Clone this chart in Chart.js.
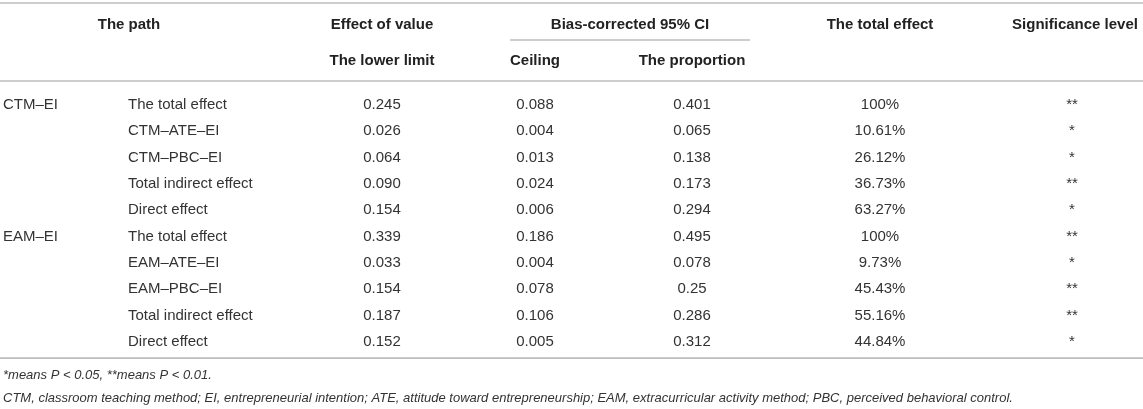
<!DOCTYPE html>
<html>
<head>
<meta charset="utf-8">
<script src="https://cdn.jsdelivr.net/npm/chart.js@4.4.1/dist/chart.umd.min.js"></script>
<style>
  html, body { margin: 0; padding: 0; background: #fff; }
  #wrap { position: relative; width: 1143px; height: 409px; }
</style>
</head>
<body>
<div id="wrap"><canvas id="pathTable"></canvas></div>
<script>
// table content
const groups = ["CTM–EI", "", "", "", "", "EAM–EI", "", "", "", ""];
const paths = ["The total effect", "CTM–ATE–EI", "CTM–PBC–EI", "Total indirect effect", "Direct effect",
  "The total effect", "EAM–ATE–EI", "EAM–PBC–EI", "Total indirect effect", "Direct effect"];
const lowerLimit = ["0.245", "0.026", "0.064", "0.090", "0.154", "0.339", "0.033", "0.154", "0.187", "0.152"];
const ceiling = ["0.088", "0.004", "0.013", "0.024", "0.006", "0.186", "0.004", "0.078", "0.106", "0.005"];
const proportion = ["0.401", "0.065", "0.138", "0.173", "0.294", "0.495", "0.078", "0.25", "0.286", "0.312"];
const totalEffect = ["100%", "10.61%", "26.12%", "36.73%", "63.27%", "100%", "9.73%", "45.43%", "55.16%", "44.84%"];
const significance = ["**", "*", "*", "**", "*", "**", "*", "**", "**", "*"];

const headerTop = ["The path", "Effect of value", "Bias-corrected 95% CI", "The total effect", "Significance level"];
const headerBottom = ["The lower limit", "Ceiling", "The proportion"];
const footnotes = [
  "*means P < 0.05, **means P < 0.01.",
  "CTM, classroom teaching method; EI, entrepreneurial intention; ATE, attitude toward entrepreneurship; EAM, extracurricular activity method; PBC, perceived behavioral control."
];

// layout (x in px along the row, y in row units)
const X = { group: 3, path: 128, pathHead: 129, lower: 382, ceiling: 535, proportion: 692, bias: 630, total: 880, sig: 1072, sigHead: 1075, note: 3 };
const Y = { head1: -3.06, head2: -1.69, topRule: -3.82, biasRule: -2.414, headRule: -0.855, bottomRule: 9.68, note1: 10.3, note2: 11.15 };
const FONT = "'Liberation Sans', Arial, Helvetica, sans-serif";
const RULE = "#bdbdbd";

function textSet(texts, xs, ys, align, opts) {
  return {
    type: "scatter",
    data: texts.map((t, i) => ({ x: Array.isArray(xs) ? xs[i] : xs, y: Array.isArray(ys) ? ys[i] : ys })),
    texts: texts,
    textAlign: align,
    textFont: opts.font,
    textColor: opts.color,
    pointRadius: 0,
    showLine: false
  };
}

function rule(y, x0, x1) {
  return {
    type: "line",
    data: [{ x: x0, y: y }, { x: x1, y: y }],
    borderColor: RULE,
    borderWidth: 1.6,
    pointRadius: 0,
    fill: false
  };
}

const rowIdx = paths.map((_, i) => i);
const body = { font: "15px " + FONT, color: "#333" };
const bold = { font: "bold 15px " + FONT, color: "#222" };
const note = { font: "italic 13px " + FONT, color: "#333" };

const datasets = [
  rule(Y.topRule, 0, 1143),
  rule(Y.biasRule, 510, 750),
  rule(Y.headRule, 0, 1143),
  rule(Y.bottomRule, 0, 1143),
  textSet(headerTop, [X.pathHead, X.lower, X.bias, X.total, X.sigHead], Y.head1, "center", bold),
  textSet(headerBottom, [X.lower, X.ceiling, X.proportion], Y.head2, "center", bold),
  textSet(groups, X.group, rowIdx, "left", body),
  textSet(paths, X.path, rowIdx, "left", body),
  textSet(lowerLimit, X.lower, rowIdx, "center", body),
  textSet(ceiling, X.ceiling, rowIdx, "center", body),
  textSet(proportion, X.proportion, rowIdx, "center", body),
  textSet(totalEffect, X.total, rowIdx, "center", body),
  textSet(significance, X.sig, rowIdx, "center", body),
  textSet(footnotes, X.note, [Y.note1, Y.note2], "left", note)
];

// draws each cell's text at its point, via the chart's scales
const cellText = {
  id: "cellText",
  afterDatasetsDraw(chart) {
    const ctx = chart.ctx;
    chart.data.datasets.forEach((ds, di) => {
      if (!ds.texts) return;
      const meta = chart.getDatasetMeta(di);
      ctx.save();
      ctx.font = ds.textFont;
      ctx.fillStyle = ds.textColor;
      ctx.textAlign = ds.textAlign;
      ctx.textBaseline = "middle";
      meta.data.forEach((pt, i) => {
        if (ds.texts[i]) ctx.fillText(ds.texts[i], pt.x, pt.y + 1.5);
      });
      ctx.restore();
    });
  }
};

const rowUnit = 26.3;
const yMin = -103.5 / rowUnit;
const yMax = yMin + 409 / rowUnit;

new Chart(document.getElementById("pathTable"), {
  type: "scatter",
  data: { datasets: datasets },
  options: {
    responsive: true,
    maintainAspectRatio: false,
    animation: false,
    layout: { padding: 0 },
    plugins: { legend: { display: false }, tooltip: { enabled: false } },
    scales: {
      x: { type: "linear", min: 0, max: 1143, display: false },
      y: { type: "linear", min: yMin, max: yMax, reverse: true, display: false }
    }
  },
  plugins: [cellText]
});
</script>
</body>
</html>
